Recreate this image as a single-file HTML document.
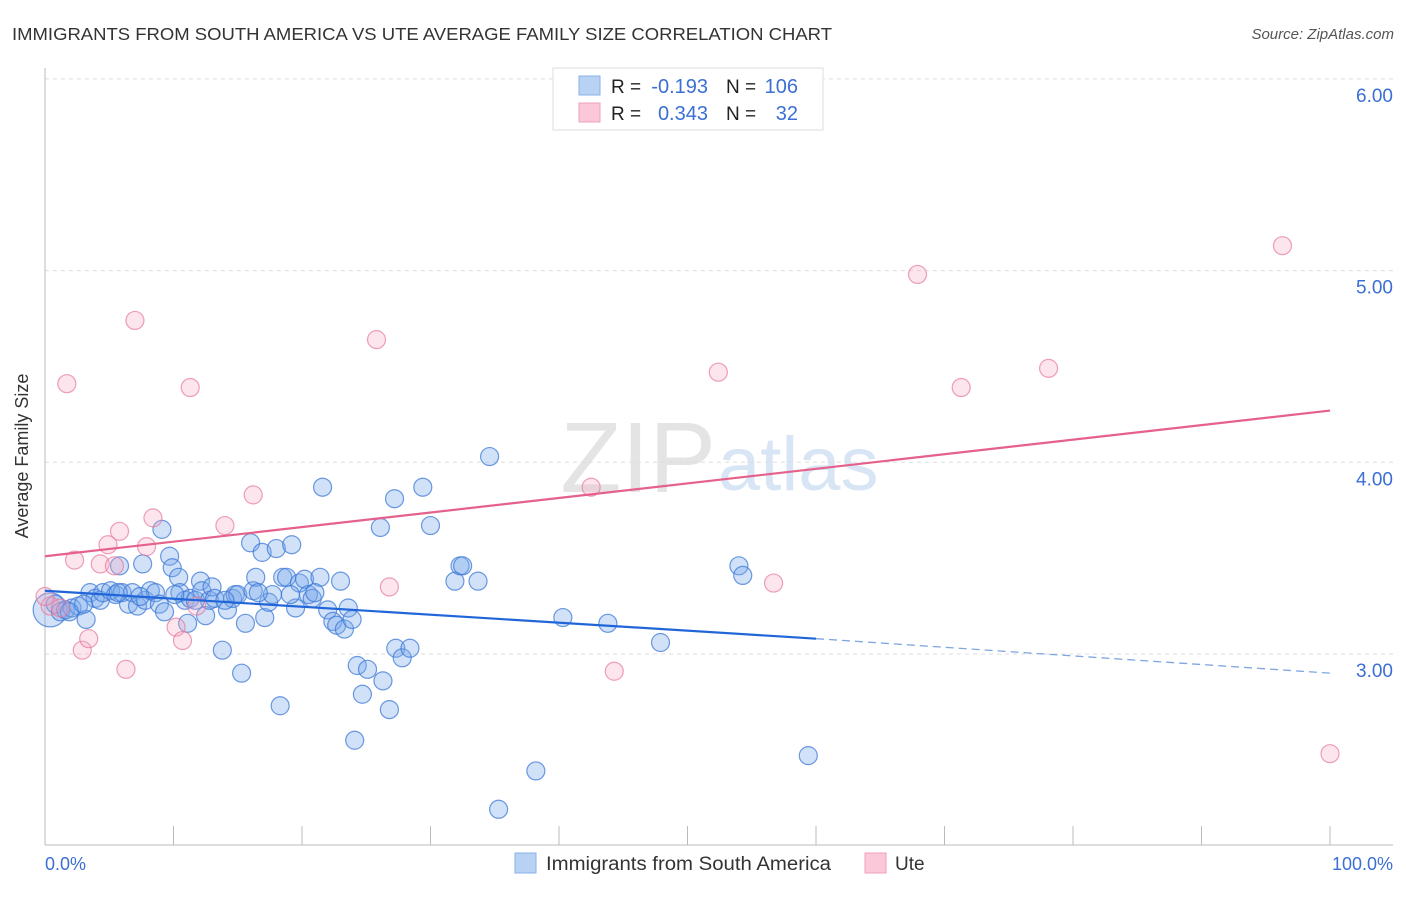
<!DOCTYPE html>
<html><head><meta charset="utf-8"><style>
body{margin:0;background:#fff;font-family:"Liberation Sans",sans-serif}
svg text{font-family:"Liberation Sans",sans-serif}
</style></head><body>
<svg id="chart" width="1406" height="892">
<text x="12" y="40" font-size="17.5" fill="#333" textLength="820" lengthAdjust="spacingAndGlyphs">IMMIGRANTS FROM SOUTH AMERICA VS UTE AVERAGE FAMILY SIZE CORRELATION CHART</text>
<text x="1394" y="39" font-size="15" fill="#555" font-style="italic" text-anchor="end">Source: ZipAtlas.com</text>
<text x="716" y="492" font-size="100" fill="#e4e4e4" text-anchor="end" font-family="Liberation Serif">ZIP</text>
<text x="718" y="490" font-size="76" fill="#d7e5f5">atlas</text>
<g id="grid"></g>
<line x1="45" y1="68" x2="45" y2="845" stroke="#bbb"/>
<line x1="45" y1="845" x2="1393" y2="845" stroke="#bbb"/>
<text x="28" y="456" font-size="18" fill="#333" text-anchor="middle" transform="rotate(-90 28 456)">Average Family Size</text>
<text x="45" y="870" font-size="18" fill="#3b6fd4">0.0%</text>
<text x="1393" y="870" font-size="18" fill="#3b6fd4" text-anchor="end">100.0%</text>
<g id="marks"></g>
<g>
<rect x="553" y="68" width="270" height="62" fill="#fff" stroke="#ddd"/>
<rect x="579" y="76" width="21" height="19" fill="#b8d2f4" stroke="#8ab1e8"/>
<rect x="579" y="103" width="21" height="19" fill="#fac8d8" stroke="#f0a0b8"/>
<text x="611" y="93" font-size="19" fill="#222">R =</text>
<text x="708" y="93" font-size="20" fill="#3b6fd4" text-anchor="end">-0.193</text>
<text x="726" y="93" font-size="19" fill="#222">N =</text>
<text x="798" y="93" font-size="20" fill="#3b6fd4" text-anchor="end">106</text>
<text x="611" y="120" font-size="19" fill="#222">R =</text>
<text x="708" y="120" font-size="20" fill="#3b6fd4" text-anchor="end">0.343</text>
<text x="726" y="120" font-size="19" fill="#222">N =</text>
<text x="798" y="120" font-size="20" fill="#3b6fd4" text-anchor="end">32</text>
</g>
<g>
<rect x="515" y="853" width="21" height="20" fill="#b8d2f4" stroke="#8ab1e8"/>
<text x="546" y="870" font-size="19" fill="#333" textLength="285" lengthAdjust="spacingAndGlyphs">Immigrants from South America</text>
<rect x="865" y="853" width="21" height="20" fill="#fac8d8" stroke="#f0a0b8"/>
<text x="895" y="870" font-size="19" fill="#333">Ute</text>
</g>
</svg>
<script>
const yTicks=[3,4,5,6];
const yTickLabels=["3.00","4.00","5.00","6.00"];
const blueX=[0.4,0.8,1.2,1.6,2.1,2.6,3.2,3.5,3.9,4.3,4.5,5.1,5.5,5.8,6.0,6.5,6.8,7.2,7.6,7.8,8.2,8.6,8.9,9.1,9.3,9.7,9.9,10.4,10.5,10.9,11.1,11.3,11.7,12.1,12.2,12.5,12.8,13.0,13.2,13.8,14.2,14.6,14.8,15.0,15.3,15.6,16.0,16.2,16.4,16.9,17.1,17.4,17.7,18.0,18.3,18.5,18.8,19.2,19.5,19.8,20.2,20.5,20.8,21.4,21.6,22.0,22.4,22.7,23.0,23.3,23.6,23.9,24.1,24.3,24.7,25.1,26.1,26.3,26.8,27.2,27.3,27.8,28.4,29.4,30.0,31.9,32.3,32.5,33.7,34.6,35.3,38.2,40.3,43.8,47.9,54.0,54.3,59.4,1.9,3.0,5.7,7.4,10.1,14.0,16.6,19.1,21.0];
const blueY=[3.23,3.26,3.22,3.23,3.24,3.25,3.18,3.32,3.29,3.28,3.32,3.33,3.31,3.46,3.32,3.26,3.32,3.25,3.47,3.28,3.33,3.32,3.26,3.65,3.22,3.51,3.45,3.40,3.32,3.28,3.16,3.29,3.28,3.38,3.33,3.20,3.28,3.35,3.29,3.02,3.23,3.29,3.31,3.31,2.90,3.16,3.58,3.33,3.40,3.53,3.19,3.27,3.31,3.55,2.73,3.40,3.40,3.57,3.24,3.37,3.39,3.31,3.29,3.40,3.87,3.23,3.17,3.15,3.38,3.13,3.24,3.18,2.55,2.94,2.79,2.92,3.66,2.86,2.71,3.81,3.03,2.98,3.03,3.87,3.67,3.38,3.46,3.46,3.38,4.03,2.19,2.39,3.19,3.16,3.06,3.46,3.41,2.47,3.22,3.26,3.32,3.30,3.31,3.28,3.32,3.31,3.32];
const pinkX=[0.4,1.2,1.7,2.3,2.9,3.4,4.3,4.9,5.4,5.8,6.3,7.0,7.9,8.4,10.2,10.7,11.3,11.8,14.0,16.2,25.8,26.8,42.5,44.3,52.4,56.7,67.9,71.3,78.1,96.3,100,0];
const pinkY=[3.25,3.24,4.41,3.49,3.02,3.08,3.47,3.57,3.46,3.64,2.92,4.74,3.56,3.71,3.14,3.07,4.39,3.25,3.67,3.83,4.64,3.35,3.87,2.91,4.47,3.37,4.98,4.39,4.49,5.13,2.48,3.30];
const blueTrend=[3.33,3.08,2.90]; // y at x=0, 60, 100
const pinkTrend=[3.51,4.27]; // y at x=0, 100
const NS="http://www.w3.org/2000/svg";
const xs=v=>45+v*12.85, ys=v=>654-(v-3)*191.7;
const grid=document.getElementById('grid'), marks=document.getElementById('marks');
function mk(tag,at,parent){const e=document.createElementNS(NS,tag);for(const k in at)e.setAttribute(k,at[k]);parent.appendChild(e);return e;}
yTicks.forEach((t,i)=>{
 const l=mk('line',{x1:45,x2:1393,y1:ys(t),y2:ys(t),stroke:'#ddd','stroke-dasharray':'4,4'},grid);
 
 
 const tx=mk('text',{x:1393,y:ys(t)+23,'font-size':19,fill:'#3b6fd4','text-anchor':'end'},grid);
 tx.textContent=yTickLabels[i];
 
 
});
for(let i=0;i<=10;i++){
 const l=mk('line',{x1:xs(i*10),x2:xs(i*10),y1:826,y2:845,stroke:'#bbb'},grid);
 
 
}
blueX.forEach((x,i)=>{
 const big=i===0;
 const c=mk('circle',{cx:xs(x),cy:ys(blueY[i]),r:big?17:9,fill:'rgba(120,170,235,0.35)',stroke:'rgba(60,120,215,0.75)','stroke-width':1.2},marks);
 
 
});
pinkX.forEach((x,i)=>{
 const c=mk('circle',{cx:xs(x),cy:ys(pinkY[i]),r:9,fill:'rgba(245,170,195,0.3)',stroke:'rgba(230,120,155,0.7)','stroke-width':1.2},marks);
 
 
});
const b1=mk('line',{x1:xs(0),y1:ys(blueTrend[0]),x2:xs(60),y2:ys(blueTrend[1]),stroke:'#2166d9','stroke-width':2.2},marks);


const b2=mk('line',{x1:xs(60),y1:ys(blueTrend[1]),x2:xs(100),y2:ys(blueTrend[2]),stroke:'#7fa6e0','stroke-width':1.3,'stroke-dasharray':'8,5'},marks);


const p1=mk('line',{x1:xs(0),y1:ys(pinkTrend[0]),x2:xs(100),y2:ys(pinkTrend[1]),stroke:'#e5608a','stroke-width':2.2},marks);


</script>
</body></html>
